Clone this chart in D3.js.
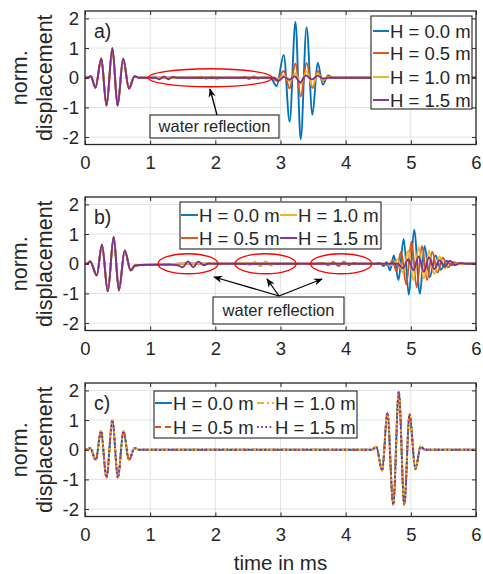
<!DOCTYPE html>
<html>
<head>
<meta charset="utf-8">
<script src="https://cdn.jsdelivr.net/npm/d3@7"></script>
<style>
  body { margin: 0; background: #fff; }
  text { font-family: "Liberation Sans", Arial, sans-serif; fill: #262626; }
</style>
</head>
<body>
<div id="chart"></div>
<script>
// ---- data ([time in ms, norm. displacement]) ----
const xTicks = [0, 1, 2, 3, 4, 5, 6];
const yTicks = [-2, -1, 0, 1, 2];
const seriesNames = ["H = 0.0 m", "H = 0.5 m", "H = 1.0 m", "H = 1.5 m"];
const panelLabels = ["a)", "b)", "c)"];
const noteText = "water reflection";

// a) source wavelet (same for all H) and the later arrivals
const aSource = [[0,0],[0.05,0.01],[0.09,0.05],[0.16,-0.34],[0.25,0.65],[0.33,-0.94],[0.42,1.0],[0.50,-0.94],[0.585,0.64],[0.675,-0.36],[0.76,0.05],[0.83,0]];
const aH00 = [[2.82,0],[2.86,-0.03],[2.94,-0.28],[3.05,0.77],[3.14,-1.48],[3.23,1.88],[3.31,-2.07],[3.40,1.7],[3.49,-1.25],[3.57,0.51],[3.65,-0.23],[3.73,0.08],[3.80,0],[6,0]];
const aH05 = [[2.38,0],[2.45,0.03],[2.52,-0.04],[2.59,0.04],[2.66,-0.03],[2.72,0],[2.86,0],[2.94,-0.1],[3.05,0.23],[3.14,-0.36],[3.23,0.48],[3.31,-0.63],[3.40,0.5],[3.49,-0.35],[3.57,0.22],[3.65,-0.12],[3.73,0.05],[3.80,0],[6,0]];
const aH10 = [[1.70,0],[1.78,0.04],[1.86,-0.04],[1.94,0.04],[2.02,-0.04],[2.10,0],[2.90,0],[2.97,-0.05],[3.05,0.08],[3.14,-0.12],[3.23,0.15],[3.31,-0.2],[3.40,0.22],[3.49,-0.28],[3.57,0.15],[3.65,-0.08],[3.73,0.03],[3.80,0],[6,0]];
const aH15 = [[1.08,0],[1.14,-0.05],[1.21,0.04],[1.28,-0.05],[1.35,0.03],[1.42,0],[2.90,0],[2.97,-0.1],[3.05,0.03],[3.14,-0.06],[3.22,0.05],[3.30,-0.16],[3.39,0.08],[3.48,-0.06],[3.57,0.07],[3.66,-0.03],[3.75,0],[6,0]];

// b)
const bSource = [[0,0],[0.04,0.01],[0.08,0.08],[0.18,-0.39],[0.26,0.64],[0.35,-0.93],[0.44,0.9],[0.52,-0.9],[0.61,0.45],[0.70,-0.22],[0.77,-0.06],[0.85,-0.04],[1.20,-0.03]];
const bH00 = [[1.45,0],[4.45,0],[4.52,0.03],[4.58,-0.08],[4.63,0.05],[4.68,-0.22],[4.74,0.28],[4.81,-0.55],[4.89,0.84],[4.97,-1.05],[5.05,1.15],[5.14,-1.01],[5.21,0.6],[5.29,-0.45],[5.38,0.28],[5.46,-0.2],[5.55,0.1],[5.62,-0.05],[5.70,0],[6,0]];
const bH05 = [[1.45,0],[3.55,0],[3.65,0.03],[3.73,-0.05],[3.81,0.06],[3.89,-0.08],[3.97,0.07],[4.05,-0.05],[4.13,0.03],[4.20,0],[4.55,0],[4.66,-0.05],[4.72,0.1],[4.78,-0.25],[4.85,0.4],[4.93,-0.7],[5.01,0.75],[5.09,-0.8],[5.17,0.6],[5.25,-0.55],[5.33,0.4],[5.41,-0.3],[5.49,0.2],[5.57,-0.12],[5.65,0.06],[5.72,0],[6,0]];
const bH10 = [[1.45,0],[2.35,0],[2.45,0.03],[2.53,-0.05],[2.61,0.07],[2.69,-0.09],[2.77,0.08],[2.85,-0.06],[2.93,0.03],[3.00,0],[4.60,0],[4.72,-0.05],[4.80,0.15],[4.88,-0.3],[4.96,0.45],[5.04,-0.55],[5.12,0.55],[5.20,-0.5],[5.28,0.42],[5.36,-0.35],[5.44,0.25],[5.52,-0.15],[5.60,0.08],[5.68,-0.03],[5.75,0],[6,0]];
const bH15 = [[1.30,-0.03],[1.42,-0.05],[1.50,-0.12],[1.58,0.08],[1.66,-0.12],[1.74,0.07],[1.82,-0.05],[1.90,0.01],[2.00,0],[4.80,0],[4.88,-0.15],[4.96,0.15],[5.04,-0.22],[5.12,0.25],[5.20,-0.27],[5.28,0.22],[5.36,-0.18],[5.44,0.12],[5.52,-0.1],[5.60,0.1],[5.68,-0.05],[5.76,0.03],[5.85,0],[6,0]];

// c) all four traces coincide
const cSource = [[0,0],[0.05,0.02],[0.08,0.06],[0.165,-0.35],[0.245,0.63],[0.33,-0.94],[0.42,1.0],[0.505,-0.94],[0.59,0.63],[0.675,-0.35],[0.76,0.06],[0.83,0]];
const cReflected = [[4.40,0],[4.47,0.1],[4.56,-0.7],[4.64,1.25],[4.73,-1.85],[4.815,1.95],[4.90,-1.85],[4.98,1.2],[5.07,-0.65],[5.15,0.1],[5.22,0],[6,0]];

// water reflection marks (centre time, centre value, half width in ms)
const aEllipses = [[1.92, 0, 0.95]];
const bEllipses = [[1.58, 0, 0.46], [2.77, 0, 0.47], [3.93, 0, 0.47]];

// ---- layout ----
const W = 483, H = 574;
const colors = ["#0072BD", "#D95319", "#EDB120", "#7E2F8E"];
const dashC = [null, "6,4", "7,3,2,3", "1.6,2.6"];
const axisCol = "#262626";
const tops = [11, 197, 383];
const ph = 133.5;
const lw = 1.9;

const svg = d3.select("#chart").append("svg")
  .attr("width", W).attr("height", H)
  .style("background", "#fff");

const defs = svg.append("defs");
defs.append("marker")
  .attr("id", "head")
  .attr("viewBox", "0 0 10 10")
  .attr("refX", 9).attr("refY", 5)
  .attr("markerWidth", 9).attr("markerHeight", 9)
  .attr("markerUnits", "userSpaceOnUse")
  .attr("orient", "auto")
  .append("path")
  .attr("d", "M0,1 L10,5 L0,9 L3,5 Z")
  .attr("fill", "#000");

const x = d3.scaleLinear().domain([0, 6]).range([85, 476]);

function drawPanel(i, series, dashes) {
  const top = tops[i];
  const y = d3.scaleLinear().domain([-2.25, 2.25]).range([top + ph, top]);
  const g = svg.append("g");

  // grid
  g.selectAll(".gx").data(xTicks.slice(1, -1)).enter().append("line")
    .attr("x1", d => x(d)).attr("x2", d => x(d))
    .attr("y1", top).attr("y2", top + ph)
    .attr("stroke", "#e3e3e3").attr("stroke-width", 1);
  g.selectAll(".gy").data(yTicks).enter().append("line")
    .attr("x1", x(0)).attr("x2", x(6))
    .attr("y1", d => y(d)).attr("y2", d => y(d))
    .attr("stroke", "#e3e3e3").attr("stroke-width", 1);

  // curves
  const line = d3.line()
    .x(d => x(d[0])).y(d => y(d[1]))
    .curve(d3.curveMonotoneX);
  series.forEach((s, k) => {
    g.append("path")
      .attr("d", line(s))
      .attr("fill", "none")
      .attr("stroke", colors[k])
      .attr("stroke-width", lw)
      .attr("stroke-dasharray", dashes[k]);
  });

  // axes (ticks inward on all four sides)
  const fmt = d => String(d);
  const ax = [
    g.append("g").attr("transform", `translate(0,${top + ph})`)
      .call(d3.axisBottom(x).tickValues(xTicks).tickSize(-4).tickPadding(10).tickFormat(fmt)),
    g.append("g").attr("transform", `translate(0,${top})`)
      .call(d3.axisTop(x).tickValues(xTicks).tickSize(-4).tickFormat("")),
    g.append("g").attr("transform", `translate(${x(0)},0)`)
      .call(d3.axisLeft(y).tickValues(yTicks).tickSize(-4).tickPadding(10).tickFormat(fmt)),
    g.append("g").attr("transform", `translate(${x(6)},0)`)
      .call(d3.axisRight(y).tickValues(yTicks).tickSize(-4).tickFormat(""))
  ];
  ax.forEach(a => {
    a.select(".domain").remove();
    a.selectAll("line").attr("stroke", axisCol).attr("stroke-width", 1);
    a.selectAll("text").style("font-size", "18.5px").attr("fill", axisCol)
      .style("font-family", "'Liberation Sans', Arial, sans-serif");
  });
  ax[0].selectAll("text").attr("dy", "0.71em").attr("y", 11);
  ax[2].selectAll("text").attr("x", -6);

  g.append("rect")
    .attr("x", x(0)).attr("y", top)
    .attr("width", x(6) - x(0)).attr("height", ph)
    .attr("fill", "none").attr("stroke", axisCol).attr("stroke-width", 1.3);

  // y label
  const cy = top + ph / 2;
  g.append("text")
    .attr("transform", `translate(27,${cy}) rotate(-90)`)
    .attr("text-anchor", "middle")
    .style("font-size", "21.5px")
    .text("norm.");
  g.append("text")
    .attr("transform", `translate(52,${cy}) rotate(-90)`)
    .attr("text-anchor", "middle")
    .style("font-size", "21.5px")
    .text("displacement");

  // panel letter
  g.append("text")
    .attr("x", 94).attr("y", top + 27)
    .style("font-size", "19.5px")
    .text(panelLabels[i]);

  return { g, y };
}

function legend(g, items, x0, y0, w, h, rows, colX, rowY, lineLen) {
  g.append("rect")
    .attr("x", x0).attr("y", y0).attr("width", w).attr("height", h)
    .attr("fill", "#fff").attr("stroke", axisCol).attr("stroke-width", 1.1);
  items.forEach((it, k) => {
    const c = Math.floor(k / rows), r = k % rows;
    const lx = colX[c], ly = rowY[r];
    g.append("line")
      .attr("x1", lx).attr("x2", lx + lineLen)
      .attr("y1", ly).attr("y2", ly)
      .attr("stroke", it.color).attr("stroke-width", lw)
      .attr("stroke-dasharray", it.dash);
    g.append("text")
      .attr("x", lx + lineLen + 1).attr("y", ly)
      .attr("dy", "0.36em")
      .style("font-size", "18.5px")
      .text(it.name);
  });
}

function note(g, bx, by, bw, bh) {
  g.append("rect")
    .attr("x", bx).attr("y", by).attr("width", bw).attr("height", bh)
    .attr("fill", "#fff").attr("stroke", axisCol).attr("stroke-width", 1.1);
  g.append("text")
    .attr("x", bx + bw / 2).attr("y", by + bh / 2)
    .attr("dy", "0.36em")
    .attr("text-anchor", "middle")
    .style("font-size", "16.5px")
    .text(noteText);
}

function arrow(g, x1, y1, x2, y2) {
  g.append("line")
    .attr("x1", x1).attr("y1", y1).attr("x2", x2).attr("y2", y2)
    .attr("stroke", "#000").attr("stroke-width", 1.3)
    .attr("marker-end", "url(#head)");
}

function ellipses(g, y, list, ry) {
  g.selectAll(null).data(list).enter().append("ellipse")
    .attr("cx", d => x(d[0])).attr("cy", d => y(d[1]))
    .attr("rx", d => x(d[2]) - x(0)).attr("ry", ry)
    .attr("fill", "none").attr("stroke", "#ff0000").attr("stroke-width", 1.3);
}

const styleSolid = [null, null, null, null];
const items = (dashes) => seriesNames.map((n, k) => ({ name: n, color: colors[k], dash: dashes[k] }));

// panel a
const pa = drawPanel(0, [aSource.concat(aH00), aSource.concat(aH05), aSource.concat(aH10), aSource.concat(aH15)], styleSolid);
ellipses(pa.g, pa.y, aEllipses, 9);
note(pa.g, 150, 115, 129, 23);
arrow(pa.g, 217, 115, 210, 89);
legend(pa.g, items(styleSolid), 371, 16, 101, 93, 4, [373], [31, 53, 77, 100], 16);

// panel b
const pb = drawPanel(1, [bSource.concat(bH00), bSource.concat(bH05), bSource.concat(bH10), bSource.concat(bH15)], styleSolid);
ellipses(pb.g, pb.y, bEllipses, 10);
note(pb.g, 213, 297, 131, 27);
arrow(pb.g, 279, 296, 214, 277);
arrow(pb.g, 279, 296, 267, 279);
arrow(pb.g, 279, 296, 322, 279);
legend(pb.g, items(styleSolid), 180, 202, 201, 47, 2, [181, 280], [215, 238], 17);

// panel c
const cWave = cSource.concat(cReflected);
const pc = drawPanel(2, [cWave, cWave, cWave, cWave], dashC);
legend(pc.g, items(dashC), 154, 391, 203, 47, 2, [155, 257], [403, 427], 17);

// x label
svg.append("text")
  .attr("x", (x(0) + x(6)) / 2).attr("y", 570)
  .attr("text-anchor", "middle")
  .style("font-size", "20.5px")
  .text("time in ms");
</script>
</body>
</html>
